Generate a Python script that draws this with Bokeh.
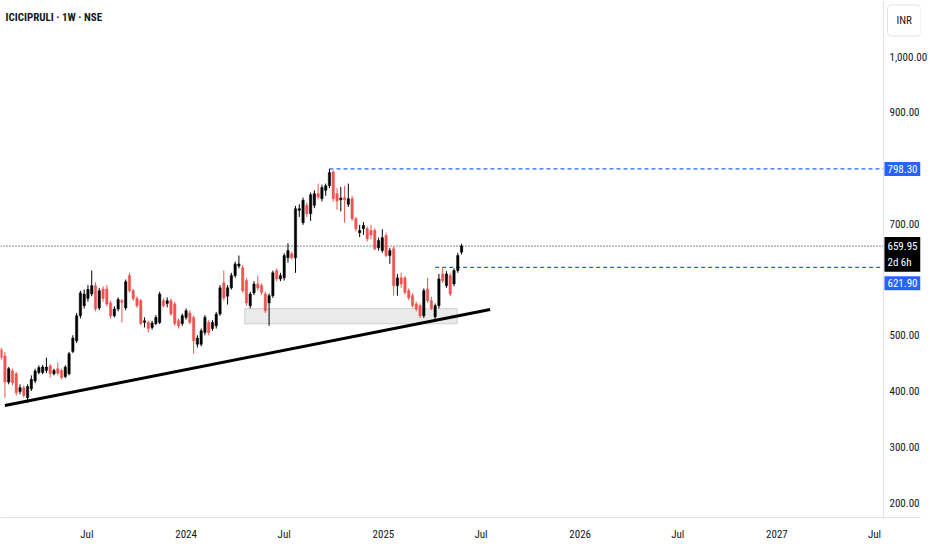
import pandas as pd
from bokeh.plotting import figure
from bokeh.models import Range1d, FixedTicker, NumeralTickFormatter, Span, Label
from bokeh.embed import file_html
from bokeh.resources import INLINE

# ---------------- data ----------------
symbol_title = "ICICIPRULI · 1W · NSE"
currency = "INR"
first_week = "2023-01-23"

opens = [474, 463, 416, 436, 431, 399, 406, 388, 404, 418, 433, 433, 437, 445, 431, 440, 437, 426, 431, 471,
         490, 535, 553, 566, 574, 589, 549, 583, 583, 558, 535, 547, 562, 549, 607, 580, 566, 562, 523, 523,
         514, 521, 523, 562, 557, 562, 556, 526, 521, 532, 540, 532, 484, 484, 505, 523, 512, 517, 538, 594,
         570, 585, 607, 624, 621, 598, 553, 576, 592, 589, 574, 558, 571, 616, 601, 603, 639, 646, 639, 724,
         702, 733, 718, 733, 754, 745, 760, 768, 793, 754, 743, 747, 735, 745, 709, 684, 691, 691, 688, 688,
         657, 652, 679, 643, 655, 589, 603, 603, 580, 571, 556, 553, 535, 583, 562, 533, 553, 610, 589, 607,
         592, 616, 649]
highs = [478, 470, 443, 440, 434, 412, 410, 412, 428, 440, 446, 447, 460, 448, 440, 451, 440, 446, 470, 500,
         540, 580, 582, 590, 616, 595, 585, 588, 590, 562, 552, 568, 565, 600, 612, 583, 570, 565, 532, 526,
         526, 536, 578, 566, 568, 566, 560, 530, 539, 548, 545, 535, 500, 512, 536, 527, 527, 542, 590, 616,
         590, 612, 632, 643, 626, 602, 578, 597, 607, 593, 578, 575, 616, 620, 612, 647, 665, 650, 732, 735,
         747, 738, 756, 760, 772, 770, 772, 798.3, 796, 764, 766, 768, 772, 750, 712, 698, 703, 695, 698, 692,
         675, 690, 684, 657, 660, 610, 612, 606, 584, 575, 560, 557, 584, 603, 569, 557, 610, 621.9, 615, 612,
         620, 648, 664]
lows = [455, 388, 412, 410, 392, 394, 388, 379, 400, 414, 430, 430, 432, 424, 428, 428, 421, 423, 428, 468,
        486, 530, 548, 560, 570, 543, 545, 560, 552, 530, 532, 543, 523, 545, 577, 562, 549, 518, 514, 505,
        510, 518, 520, 550, 550, 535, 517, 512, 517, 528, 520, 467, 478, 480, 500, 500, 508, 512, 535, 562,
        555, 582, 603, 620, 576, 553, 548, 572, 580, 572, 540, 517, 567, 597, 597, 598, 630, 636, 612, 712,
        698, 712, 705, 728, 744, 740, 750, 764, 740, 725, 722, 702, 730, 705, 686, 676, 680, 668, 672, 652,
        652, 648, 640, 628, 571, 571, 585, 573, 563, 550, 543, 531, 531, 558, 545, 526, 548, 594, 585, 570,
        588, 612, 645]
closes = [460, 416, 440, 415, 397, 406, 392, 408, 421, 436, 442, 443, 443, 431, 437, 432, 424, 443, 467, 495,
          535, 576, 574, 582, 589, 547, 580, 566, 556, 535, 547, 564, 559, 596, 580, 566, 553, 521, 526, 512,
          522, 532, 574, 553, 562, 538, 521, 517, 535, 544, 523, 490, 495, 508, 532, 505, 523, 538, 585, 567,
          585, 607, 628, 628, 580, 558, 574, 592, 585, 577, 544, 571, 612, 601, 607, 643, 652, 639, 727, 727,
          742, 718, 752, 754, 748, 765, 768, 792, 745, 741, 746, 743, 745, 709, 691, 688, 697, 673, 680, 655,
          670, 675, 643, 652, 589, 603, 592, 577, 567, 553, 547, 535, 580, 562, 548, 553, 601, 598, 610, 574,
          616, 643, 659.95]

last_price = 659.95
countdown = "2d 6h"
level_prices = [798.30, 621.90]
level_start_dates = ["2024-09-23", "2025-04-07"]
trend_dates = ["2023-01-30", "2025-07-18"]
trend_prices = [374.0, 546.2]
zone_dates = ["2024-04-19", "2025-05-18"]
zone_prices = [520.6, 547.6]

x_tick_dates = ["2023-07-01", "2024-01-01", "2024-07-01", "2025-01-01", "2025-07-01",
                "2026-01-01", "2026-07-01", "2027-01-01", "2027-07-01"]
x_tick_labels = ["Jul", "2024", "Jul", "2025", "Jul", "2026", "Jul", "2027", "Jul"]
y_ticks = [200, 300, 400, 500, 700, 900, 1000]

# ---------------- build ----------------
FONT = "Roboto Condensed, Roboto, sans-serif"
UP = "#000000"
DOWN = "#ef5350"
TEXT = "#131722"
BORDER = "#e0e3eb"

dates = pd.date_range(first_week, periods=len(opens), freq="W-MON")
df = pd.DataFrame(dict(date=dates, open=opens, high=highs, low=lows, close=closes))
df["top"] = df[["open", "close"]].max(axis=1)
df["bottom"] = df[["open", "close"]].min(axis=1)
df["color"] = [UP if c >= o else DOWN for o, c in zip(df.open, df.close)]

x_start = pd.Timestamp("2023-01-21 19:00")
scale_edge = pd.Timestamp("2027-07-17 14:00")   # border between chart pane and price scale
x_end = pd.Timestamp("2027-09-24 07:00")

p = figure(frame_width=920, frame_height=517, output_backend="svg", toolbar_location=None,
           x_range=Range1d(x_start, x_end), y_range=Range1d(173.1, 1100.45),
           y_axis_location="right", min_border_left=0, min_border_right=0,
           min_border_top=0, min_border_bottom=0)
p.outline_line_color = None
p.grid.visible = False
p.background_fill_color = "white"

# zone
p.quad(left=[pd.Timestamp(zone_dates[0])], right=[pd.Timestamp(zone_dates[1])],
       bottom=[zone_prices[0]], top=[zone_prices[1]],
       fill_color="#e6e6e6", fill_alpha=0.85, line_color="#d0d0d0", line_width=1)

# last price dotted line
p.segment(x0=[x_start], y0=[last_price], x1=[scale_edge], y1=[last_price],
          line_color="#131722", line_dash="1 2", line_width=1)

# level rays
for d, lv in zip(level_start_dates, level_prices):
    p.segment(x0=[pd.Timestamp(d)], y0=[lv], x1=[scale_edge], y1=[lv],
              line_color="#2962ff", line_dash="4 3", line_width=1.2)

# candles
week_ms = 7 * 24 * 3600 * 1000
p.segment(x0="date", y0="low", x1="date", y1="high", color="color", line_width=1, source=df)
p.vbar(x="date", width=week_ms * 0.62, top="top", bottom="bottom",
       fill_color="color", line_color="color", line_width=0.5, source=df)

# trend line
p.line(x=[pd.Timestamp(d) for d in trend_dates], y=trend_prices, line_color="#000000",
       line_width=3)

# price-scale border
p.add_layout(Span(location=scale_edge, dimension="height", line_color=BORDER, line_width=1))

# axes
xa = p.xaxis[0]
ticks_ms = [int(pd.Timestamp(d).value // 10**6) for d in x_tick_dates]
xa.ticker = FixedTicker(ticks=ticks_ms)
xa.major_label_overrides = {t: l for t, l in zip(ticks_ms, x_tick_labels)}
xa.axis_line_color = BORDER
xa.major_tick_line_color = None
xa.minor_tick_line_color = None
xa.major_label_text_font = FONT
xa.major_label_text_font_size = "11px"
xa.major_label_text_color = TEXT
xa.major_label_standoff = 4

ya = p.yaxis[0]
ya.ticker = FixedTicker(ticks=y_ticks)
ya.formatter = NumeralTickFormatter(format="0,0.00")
ya.axis_line_color = None
ya.major_tick_line_color = None
ya.minor_tick_line_color = None
ya.major_label_text_font = FONT
ya.major_label_text_font_size = "11px"
ya.major_label_text_color = TEXT
ya.major_label_standoff = -37

# title
p.add_layout(Label(x=x_start, y=1070, text=symbol_title, text_font=FONT,
                   text_font_size="11px", text_font_style="bold", text_color=TEXT,
                   text_baseline="middle", text_align="left", x_offset=5))

# price tags on the scale
p.add_layout(Label(x=scale_edge, y=level_prices[0], text=f"{level_prices[0]:.2f}", text_font=FONT,
                   text_font_size="11px", text_color="white", text_baseline="middle",
                   text_align="left", x_offset=1, background_fill_color="#2962ff",
                   padding=3))
p.add_layout(Label(x=scale_edge, y=last_price, text=f"{last_price:.2f}\n{countdown}", text_font=FONT,
                   text_font_size="11px", text_color="white", text_baseline="top",
                   text_align="left", x_offset=1, y_offset=9, background_fill_color="#000000",
                   padding=3))
p.add_layout(Label(x=scale_edge, y=level_prices[1], text=f"{level_prices[1]:.2f}", text_font=FONT,
                   text_font_size="11px", text_color="white", text_baseline="top",
                   text_align="left", x_offset=1, y_offset=-9, background_fill_color="#2962ff",
                   padding=3))
p.add_layout(Label(x=scale_edge, y=1064.6, text=currency, text_font=FONT,
                   text_font_size="11px", text_color=TEXT, text_baseline="middle",
                   text_align="left", x_offset=4, border_line_color=BORDER,
                   background_fill_color="white", padding=9, border_radius=4))

open("out.html", "w").write(file_html(p, INLINE))
